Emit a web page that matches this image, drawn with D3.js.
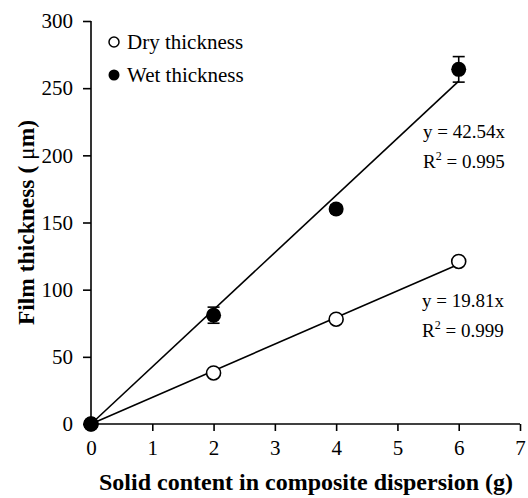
<!DOCTYPE html>
<html>
<head>
<meta charset="utf-8">
<script src="https://cdn.jsdelivr.net/npm/d3@7"></script>
<style>
  html, body { margin: 0; padding: 0; background: #fff; }
  svg { display: block; }
  text { font-family: "Liberation Serif", "Times New Roman", serif; fill: #000; }
</style>
</head>
<body>
<svg id="chart" width="528" height="498"></svg>
<script>
// Solid content (g) on the x axis
const solidContent = [0, 2, 4, 6];
// Measured film thickness (µm)
const dryThickness = [0, 38, 78, 121];
const wetThickness = [0, 81, 160, 264];
const wetError = [0, 6, 3, 9.5];
// Linear fits through the origin
const drySlope = 19.81, dryR2 = "0.999";
const wetSlope = 42.54, wetR2 = "0.995";
const xTicks = [0, 1, 2, 3, 4, 5, 6, 7];
const yTicks = [0, 50, 100, 150, 200, 250, 300];

const serif = '"Liberation Serif", "Times New Roman", serif';
const svg = d3.select("#chart");
const plotLeft = 91, plotRight = 520, plotTop = 21, plotBottom = 424;

const x = d3.scaleLinear().domain([0, 7]).range([plotLeft, plotRight]);
const y = d3.scaleLinear().domain([0, 300]).range([plotBottom, plotTop]);

// Axes
const xAxis = d3.axisBottom(x).tickValues(xTicks).tickSize(7).tickPadding(9).tickFormat(d3.format("d"));
const yAxis = d3.axisLeft(y).tickValues(yTicks).tickSize(8).tickPadding(10).tickFormat(d3.format("d"));

const gx = svg.append("g").attr("transform", `translate(0,${plotBottom})`).call(xAxis);
const gy = svg.append("g").attr("transform", `translate(${plotLeft},0)`).call(yAxis);
[gx, gy].forEach(g => {
  g.attr("font-family", serif).attr("font-size", 21);
  g.select(".domain").attr("stroke", "#000").attr("stroke-width", 1.6);
  g.selectAll(".tick line").attr("stroke", "#000").attr("stroke-width", 1.6);
  g.selectAll(".tick text").style("font-family", serif).style("font-size", "21px").attr("fill", "#000");
});
// plain axis lines without the outer end stubs
gx.select(".domain").attr("d", `M${plotLeft},0H${plotRight}`);
gy.select(".domain").attr("d", `M0,${plotTop}V${plotBottom}`);

// Trend lines
const fits = [
  { slope: wetSlope },
  { slope: drySlope }
];
const line = d3.line().x(d => x(d[0])).y(d => y(d[1]));
fits.forEach(f => {
  svg.append("path")
    .attr("d", line([[0, 0], [6, 6 * f.slope]]))
    .attr("fill", "none").attr("stroke", "#000").attr("stroke-width", 1.6);
});

// Error bars for wet thickness
const wetData = solidContent.map((s, i) => ({ s, v: wetThickness[i], e: wetError[i] }));
const eb = svg.append("g");
wetData.filter(d => d.e > 0).forEach(d => {
  eb.append("line").attr("x1", x(d.s)).attr("x2", x(d.s)).attr("y1", y(d.v - d.e)).attr("y2", y(d.v + d.e))
    .attr("stroke", "#000").attr("stroke-width", 1.6);
  [d.v - d.e, d.v + d.e].forEach(v => {
    eb.append("line").attr("x1", x(d.s) - 6).attr("x2", x(d.s) + 6).attr("y1", y(v)).attr("y2", y(v))
      .attr("stroke", "#000").attr("stroke-width", 1.6);
  });
});

// Dry markers (open circles)
svg.append("g").selectAll("circle").data(solidContent.map((s, i) => ({ s, v: dryThickness[i] })))
  .join("circle")
  .attr("cx", d => x(d.s)).attr("cy", d => y(d.v)).attr("r", 7)
  .attr("fill", "#fff").attr("stroke", "#000").attr("stroke-width", 1.6);

// Wet markers (filled circles)
svg.append("g").selectAll("circle").data(wetData)
  .join("circle")
  .attr("cx", d => x(d.s)).attr("cy", d => y(d.v)).attr("r", 7.5)
  .attr("fill", "#000");

// Fit equations
function fitLabel(xPos, yPos, slope, r2) {
  const g = svg.append("g").style("font-size", "19px");
  g.append("text").attr("x", xPos).attr("y", yPos).text(`y = ${slope}x`);
  const t = g.append("text").attr("x", xPos).attr("y", yPos + 30);
  t.append("tspan").text("R");
  t.append("tspan").attr("dy", -8).style("font-size", "12px").text("2");
  t.append("tspan").attr("dy", 8).text(` = ${r2}`);
}
fitLabel(423, 138, wetSlope.toFixed(2), wetR2);
fitLabel(422, 307, drySlope.toFixed(2), dryR2);

// Legend
const legend = svg.append("g").style("font-size", "21px");
legend.append("circle").attr("cx", 114).attr("cy", 42).attr("r", 5).attr("fill", "#fff").attr("stroke", "#000").attr("stroke-width", 1.5);
legend.append("text").attr("x", 127).attr("y", 49).text("Dry thickness");
legend.append("circle").attr("cx", 114).attr("cy", 75).attr("r", 5.5).attr("fill", "#000");
legend.append("text").attr("x", 127).attr("y", 82).text("Wet thickness");

// Axis titles
svg.append("text").attr("x", 306).attr("y", 490).attr("text-anchor", "middle")
  .style("font-size", "24px").style("font-weight", "bold")
  .text("Solid content in composite dispersion (g)");
const yTitle = svg.append("text").attr("transform", `translate(34,${(plotTop + plotBottom) / 2}) rotate(-90)`).attr("text-anchor", "middle")
  .style("font-size", "23.5px").style("font-weight", "bold");
yTitle.append("tspan").text("Film thickness ( ");
yTitle.append("tspan").style("font-weight", "normal").text("μ");
yTitle.append("tspan").text("m)");
</script>
</body>
</html>
